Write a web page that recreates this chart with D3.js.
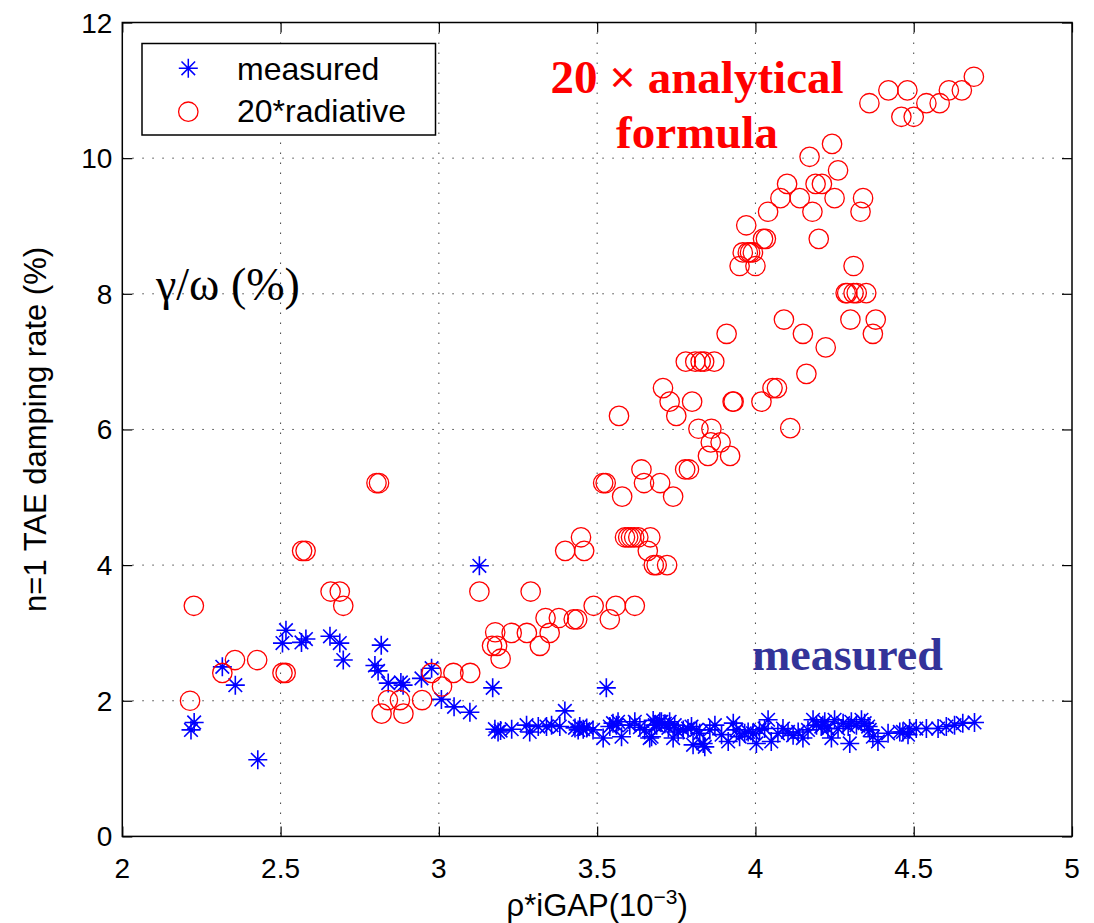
<!DOCTYPE html>
<html><head><meta charset="utf-8">
<script src="https://cdn.jsdelivr.net/npm/d3@7"></script>
<style>body{margin:0;background:#fff}</style>
</head><body><svg id="c" width="1094" height="923"></svg>
<script>
const xTicks=[2,2.5,3,3.5,4,4.5,5];
const yTicks=[0,2,4,6,8,10,12];
const legendLabels=["measured","20*radiative"];

const measuredX=[2.217,2.227,2.316,2.357,2.428,2.506,2.517,2.566,2.58,2.656,2.687,2.698,2.798,2.808,2.818,2.84,2.88,2.887,2.945,2.977,3.008,3.048,3.098,3.128,3.17,3.529,3.398,
3.177,3.187,3.195,3.23,3.277,3.287,3.314,3.34,3.356,3.382,3.43,3.44,3.445,3.456,3.467,3.487,3.519,3.54,3.55,3.561,3.566,3.577,3.603,3.619,3.635,3.65,3.666,3.672,3.677,3.682,3.688,3.698,3.703,3.714,3.725,3.729,3.74,3.745,3.756,3.772,3.787,3.798,3.803,3.814,3.824,3.835,3.84,3.856,3.872,3.893,3.914,3.93,3.94,3.95,3.966,3.977,3.992,4.003,4.013,4.029,4.04,4.05,4.071,4.087,4.103,4.119,4.135,4.15,4.166,4.182,4.193,4.208,4.213,4.219,4.229,4.24,4.25,4.261,4.277,4.293,4.298,4.303,4.319,4.335,4.345,4.356,4.361,4.371,4.387,4.419,4.456,4.466,4.482,4.487,4.508,4.54,4.577,4.603,4.629,4.655,4.692];
const measuredY=[1.57,1.68,2.50,2.23,1.13,2.85,3.04,2.86,2.91,2.95,2.85,2.60,2.52,2.44,2.82,2.26,2.27,2.23,2.33,2.48,2.02,1.91,1.83,3.99,2.19,2.19,1.85,
1.58,1.54,1.56,1.58,1.64,1.54,1.62,1.62,1.64,1.62,1.60,1.57,1.62,1.58,1.60,1.57,1.45,1.62,1.67,1.64,1.69,1.47,1.64,1.69,1.61,1.57,1.45,1.47,1.71,1.64,1.64,1.69,1.69,1.66,1.60,1.69,1.45,1.64,1.54,1.57,1.59,1.62,1.35,1.57,1.52,1.37,1.32,1.57,1.64,1.50,1.40,1.67,1.57,1.47,1.52,1.54,1.52,1.37,1.57,1.59,1.72,1.40,1.52,1.59,1.54,1.49,1.54,1.45,1.57,1.72,1.64,1.62,1.64,1.69,1.59,1.45,1.72,1.59,1.67,1.62,1.37,1.69,1.64,1.72,1.67,1.62,1.57,1.47,1.40,1.52,1.54,1.54,1.50,1.59,1.59,1.59,1.59,1.62,1.64,1.67,1.68];

const radiativeX=[2.214,2.226,2.316,2.356,2.426,2.506,2.516,2.568,2.579,2.658,2.687,2.698,2.803,2.811,2.819,2.839,2.877,2.888,2.947,2.977,3.01,3.046,3.099,3.128,3.168,3.178,3.184,3.195,3.23,3.278,3.29,3.319,3.337,3.35,3.379,3.399,3.426,3.437,3.449,3.459,3.489,3.519,3.527,3.54,3.559,3.569,3.579,3.588,3.598,3.607,3.617,3.619,3.63,3.64,3.648,3.66,3.668,3.679,3.688,3.699,3.708,3.721,3.729,3.74,3.75,3.778,3.78,3.79,3.80,3.81,3.82,3.827,3.838,3.85,3.859,3.861,3.87,3.89,3.909,3.92,3.928,3.931,3.95,3.96,3.971,3.976,3.983,3.992,4.0,4.019,4.024,4.033,4.04,4.054,4.068,4.079,4.09,4.10,4.11,4.14,4.15,4.161,4.171,4.18,4.19,4.2,4.21,4.222,4.242,4.25,4.261,4.285,4.29,4.30,4.31,4.31,4.32,4.332,4.34,4.35,4.36,4.371,4.38,4.42,4.461,4.48,4.50,4.54,4.582,4.611,4.652,4.69];
const radiativeY=[2.0,3.40,2.41,2.60,2.60,2.41,2.41,4.21,4.21,3.61,3.61,3.40,5.21,5.21,1.81,2.01,2.01,1.81,2.01,2.41,2.21,2.41,2.41,3.61,2.81,3.01,2.81,2.62,3.0,3.0,3.61,2.81,3.22,3.0,3.22,4.21,3.20,3.20,4.41,4.21,3.40,5.21,5.21,3.20,3.40,6.20,5.01,4.41,4.41,4.41,4.41,3.40,4.41,5.41,5.21,4.21,4.41,4.0,4.0,5.21,6.61,4.0,6.41,5.01,6.20,5.41,7.0,5.41,6.41,7.0,6.01,7.0,7.0,5.61,5.81,6.01,7.0,5.81,7.41,5.61,6.41,6.41,8.41,8.61,9.01,8.61,8.61,8.61,8.41,6.41,8.81,8.81,9.21,6.61,6.61,9.41,7.62,9.62,6.02,9.41,7.41,6.82,10.02,9.21,9.62,8.81,9.62,7.21,10.21,9.41,9.82,8.01,8.01,7.62,8.01,8.41,8.01,9.21,9.41,8.01,10.81,7.41,7.62,11.0,10.61,11.0,10.61,10.81,10.81,11.0,11.0,11.2];

const svg=d3.select("#c");
const M={l:122.3,r:1072,t:22.5,b:836.4};
const x=d3.scaleLinear().domain([2,5]).range([M.l,M.r]);
const y=d3.scaleLinear().domain([0,12]).range([M.b,M.t]);
const sans="'Liberation Sans', Arial, sans-serif";
const serif="'Liberation Serif', 'Times New Roman', serif";

// grid
const grid=svg.append("g").attr("stroke","#444").attr("stroke-width",1).attr("stroke-dasharray","1.5,8.5");
grid.selectAll(".gx").data(xTicks.slice(1,-1)).join("line")
  .attr("x1",d=>x(d)).attr("x2",d=>x(d)).attr("y1",M.t).attr("y2",M.b);
grid.selectAll(".gy").data(yTicks.slice(1,-1)).join("line")
  .attr("y1",d=>y(d)).attr("y2",d=>y(d)).attr("x1",M.l).attr("x2",M.r);

// axes with inward ticks
function styleAxis(g){g.select(".domain").remove();g.selectAll("line").attr("stroke","#000").attr("stroke-width",1.2);}
svg.append("g").attr("transform",`translate(0,${M.b})`).call(d3.axisBottom(x).tickValues(xTicks).tickSize(-10).tickFormat("")).call(styleAxis);
svg.append("g").attr("transform",`translate(0,${M.t})`).call(d3.axisTop(x).tickValues(xTicks).tickSize(-10).tickFormat("")).call(styleAxis);
svg.append("g").attr("transform",`translate(${M.l},0)`).call(d3.axisLeft(y).tickValues(yTicks).tickSize(-10).tickFormat("")).call(styleAxis);
svg.append("g").attr("transform",`translate(${M.r},0)`).call(d3.axisRight(y).tickValues(yTicks).tickSize(-10).tickFormat("")).call(styleAxis);
svg.append("rect").attr("x",M.l).attr("y",M.t).attr("width",M.r-M.l).attr("height",M.b-M.t)
  .attr("fill","none").attr("stroke","#000").attr("stroke-width",1.5);

// tick labels
svg.append("g").selectAll("text").data(xTicks).join("text")
  .attr("x",d=>x(d)).attr("y",M.b+42).attr("text-anchor","middle")
  .attr("font-family",sans).attr("font-size",28).text(d=>d);
svg.append("g").selectAll("text").data(yTicks).join("text")
  .attr("x",M.l-10).attr("y",d=>y(d)+10).attr("text-anchor","end")
  .attr("font-family",sans).attr("font-size",28).text(d=>d);

// axis labels
const xl=svg.append("text").attr("x",(M.l+M.r)/2).attr("y",916).attr("text-anchor","middle")
  .attr("font-family",sans).attr("font-size",31);
xl.append("tspan").text("ρ*iGAP(10");
xl.append("tspan").attr("dy",-12).attr("font-size",21).text("−3");
xl.append("tspan").attr("dy",12).text(")");
svg.append("text").attr("transform",`translate(46,${(M.t+M.b)/2}) rotate(-90)`).attr("text-anchor","middle")
  .attr("font-family",sans).attr("font-size",31).text("n=1 TAE damping rate (%)");

// markers
function starPath(cx,cy){const a=9.5,b=6.8;
  return `M${cx-a},${cy}L${cx+a},${cy}M${cx},${cy-a}L${cx},${cy+a}M${cx-b},${cy-b}L${cx+b},${cy+b}M${cx-b},${cy+b}L${cx+b},${cy-b}`;}
const mData=measuredX.map((v,i)=>({x:v,y:measuredY[i]}));
const rData=radiativeX.map((v,i)=>({x:v,y:radiativeY[i]}));
svg.append("g").selectAll("path").data(mData).join("path")
  .attr("d",d=>starPath(x(d.x),y(d.y))).attr("stroke","#0000ff").attr("stroke-width",1.6).attr("fill","none");
svg.append("g").selectAll("circle").data(rData).join("circle")
  .attr("cx",d=>x(d.x)).attr("cy",d=>y(d.y)).attr("r",9.7)
  .attr("fill","none").attr("stroke","#ff0000").attr("stroke-width",1.3);

// legend
const lg=svg.append("g");
lg.append("rect").attr("x",142).attr("y",43.5).attr("width",293.5).attr("height",91.5)
  .attr("fill","#fff").attr("stroke","#000").attr("stroke-width",1.5);
lg.append("path").attr("d",starPath(188.3,68.3)).attr("stroke","#0000ff").attr("stroke-width",1.5).attr("fill","none");
lg.append("circle").attr("cx",188.3).attr("cy",111.7).attr("r",9.7).attr("fill","none").attr("stroke","#ff0000").attr("stroke-width",1.3);
lg.selectAll("text").data(legendLabels).join("text")
  .attr("x",237).attr("y",(d,i)=>80+i*41.7).attr("font-family",sans).attr("font-size",32).text(d=>d);

// annotations
svg.append("text").attr("x",697).attr("y",93).attr("text-anchor","middle").attr("font-family",serif)
  .attr("font-weight","bold").attr("font-size",47).attr("fill","#ff0000").text("20 × analytical");
svg.append("text").attr("x",697).attr("y",148).attr("text-anchor","middle").attr("font-family",serif)
  .attr("font-weight","bold").attr("font-size",47).attr("fill","#ff0000").text("formula");
svg.append("text").attr("x",156).attr("y",300).attr("font-family",serif)
  .attr("font-size",46).attr("fill","#000").text("γ/ω (%)");
svg.append("text").attr("x",752).attr("y",670).attr("font-family",serif)
  .attr("font-weight","bold").attr("font-size",46).attr("fill","#333399").text("measured");
</script></body></html>
